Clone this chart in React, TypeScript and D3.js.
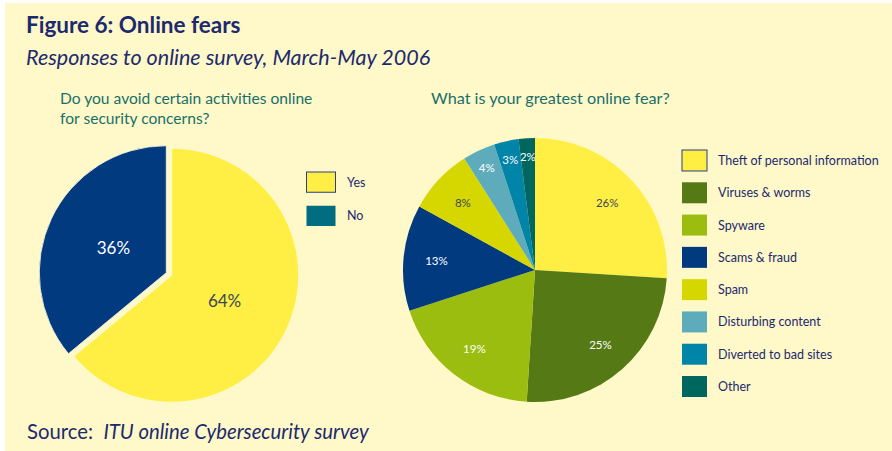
import React from "react";
import * as d3 from "d3";

const avoidLabels = ["Yes", "No"];
const avoidValues = [64, 36];

const fearLabels = [
  "Theft of personal information",
  "Viruses & worms",
  "Spyware",
  "Scams & fraud",
  "Spam",
  "Disturbing content",
  "Diverted to bad sites",
  "Other",
];
const fearValues = [26, 25, 19, 13, 8, 4, 3, 2];

const avoidColors = ["#ffef45", "#023a80"];
const avoidLegendColors = ["#ffef45", "#006d80"];
const avoidLabelColors = ["#3b4658", "#ffffff"];
const fearColors = ["#ffef45", "#557a15", "#9bbd0f", "#023a80", "#d6d600", "#5eabbb", "#0084a7", "#00675f"];
const fearLabelColors = ["#3b4658", "#ffffff", "#ffffff", "#ffffff", "#3b4658", "#ffffff", "#ffffff", "#ffffff"];

const W = 892;
const H = 451;
const FONT = "Lato, 'Open Sans', sans-serif";
const NAVY = "#1b2a6e";
const TEAL = "#19706b";

export default function App() {
  const pie = d3.pie<number>().sort(null).value((d) => d);

  // Left pie
  const lcx = 169, lcy = 274, lr = 127, explode = 3;
  const lArcs = pie(avoidValues);
  const lArc = d3.arc<d3.PieArcDatum<number>>().innerRadius(0).outerRadius(lr);
  const lLabelArc = d3.arc<d3.PieArcDatum<number>>().innerRadius(lr * 0.46).outerRadius(lr * 0.46);

  // Right pie
  const rcx = 535, rcy = 270, rr = 132;
  const rArcs = pie(fearValues);
  const rArc = d3.arc<d3.PieArcDatum<number>>().innerRadius(0).outerRadius(rr);
  const labelR = (v: number) => (v >= 8 ? rr * 0.75 : rr * 0.86);

  const legendY = d3.scaleBand<number>().domain(d3.range(fearLabels.length)).range([150, 397]).paddingInner(0.35);
  const legendLY = d3.scaleBand<number>().domain(d3.range(avoidLabels.length)).range([172, 226]).paddingInner(0.4);

  return (
    <svg width={W} height={H} style={{ position: "absolute", left: 0, top: 0 }} fontFamily={FONT}>
      <rect x={0} y={0} width={W} height={H} fill="#ffffff" />
      <rect x={5} y={3} width={W - 5} height={H - 3} fill="#fff8c9" />

      <text x={26} y={33} fontSize={22.5} fontWeight={700} fill={NAVY}>Figure 6: Online fears</text>
      <text x={26} y={65} fontSize={21.5} fontStyle="italic" fill={NAVY}>Responses to online survey, March-May 2006</text>

      <text x={60} y={104} fontSize={15.6} fill={TEAL}>Do you avoid certain activities online</text>
      <text x={60} y={124} fontSize={15.6} fill={TEAL}>for security concerns?</text>
      <text x={431} y={104} fontSize={16.2} fill={TEAL}>What is your greatest online fear?</text>

      {/* Left pie */}
      {lArcs.map((a, i) => {
        const mid = (a.startAngle + a.endAngle) / 2;
        const dx = Math.sin(mid) * explode;
        const dy = -Math.cos(mid) * explode;
        const [lx, ly] = lLabelArc.centroid(a);
        return (
          <g key={i} transform={`translate(${lcx + dx},${lcy + dy})`}>
            <path d={lArc(a) || ""} fill={avoidColors[i]} stroke="#fffbe0" strokeWidth={0.8} />
            <text x={lx} y={ly} fontSize={17} textAnchor="middle" dominantBaseline="central" fill={avoidLabelColors[i]}>
              {avoidValues[i]}%
            </text>
          </g>
        );
      })}

      {/* Left legend */}
      {avoidLabels.map((l, i) => {
        const y = legendLY(i)!;
        const h = legendLY.bandwidth();
        return (
          <g key={l}>
            <rect x={306.5} y={y} width={29} height={h} fill={avoidLegendColors[i]} stroke={i === 0 ? "#2a3f86" : "none"} strokeWidth={1} />
            <text x={347} y={y + h / 2} fontSize={12.5} dominantBaseline="central" fill={NAVY}>{l}</text>
          </g>
        );
      })}

      {/* Right pie */}
      <g transform={`translate(${rcx},${rcy})`}>
        {rArcs.map((a, i) => (
          <path key={i} d={rArc(a) || ""} fill={fearColors[i]} />
        ))}
        {rArcs.map((a, i) => {
          const mid = (a.startAngle + a.endAngle) / 2;
          const r = labelR(fearValues[i]);
          return (
            <text key={i} x={Math.sin(mid) * r} y={-Math.cos(mid) * r} fontSize={11.5} textAnchor="middle" dominantBaseline="central" fill={fearLabelColors[i]}>
              {fearValues[i]}%
            </text>
          );
        })}
      </g>

      {/* Right legend */}
      {fearLabels.map((l, i) => {
        const y = legendY(i)!;
        const h = legendY.bandwidth();
        return (
          <g key={l}>
            <rect x={682} y={y} width={25} height={h} fill={fearColors[i]} stroke={i === 0 ? "#2a3f86" : "none"} strokeWidth={1} />
            <text x={718} y={y + h / 2} fontSize={12.5} dominantBaseline="central" fill={NAVY}>{l}</text>
          </g>
        );
      })}

      <text x={27} y={439} fontSize={20.3} fill={NAVY}>
        Source:{"\u00a0\u00a0"}<tspan fontStyle="italic">ITU online Cybersecurity survey</tspan>
      </text>
    </svg>
  );
}
